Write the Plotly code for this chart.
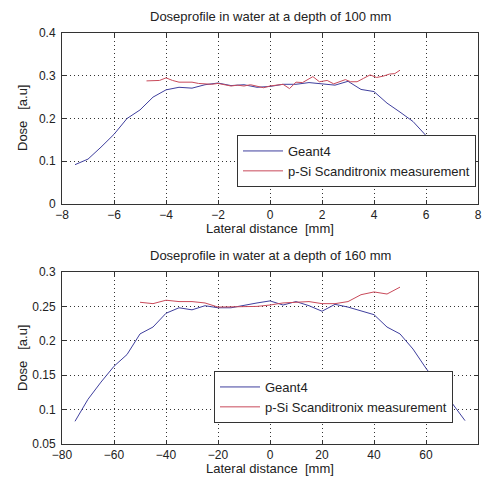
import plotly.graph_objects as go

# ---------- data: depth 100 mm ----------
g100_x = [-7.5, -7.0, -6.5, -6.0, -5.5, -5.0, -4.5, -4.0, -3.5, -3.0, -2.5, -2.0, -1.5, -1.0,
          -0.5, 0.0, 0.5, 1.0, 1.5, 2.0, 2.5, 3.0, 3.5, 4.0, 4.5, 5.0, 5.5, 6.0, 6.5, 7.0, 7.5]
g100_y = [0.092, 0.105, 0.133, 0.163, 0.200, 0.220, 0.250, 0.267, 0.273, 0.271, 0.279, 0.283,
          0.277, 0.279, 0.273, 0.275, 0.280, 0.280, 0.284, 0.281, 0.278, 0.287, 0.268, 0.263,
          0.236, 0.215, 0.193, 0.160, 0.138, 0.110, 0.090]
m100_x = [-4.75, -4.5, -4.25, -4.0, -3.75, -3.5, -3.25, -3.0, -2.75, -2.5, -2.25, -2.0, -1.75,
          -1.5, -1.25, -1.0, -0.75, -0.5, -0.25, 0.0, 0.25, 0.5, 0.75, 1.0, 1.25, 1.5, 1.65,
          1.9, 2.2, 2.45, 2.7, 2.9, 3.1, 3.35, 3.6, 3.85, 4.1, 4.35, 4.6, 4.8, 5.0]
m100_y = [0.288, 0.288, 0.289, 0.295, 0.289, 0.285, 0.285, 0.285, 0.282, 0.281, 0.280, 0.282,
          0.279, 0.276, 0.278, 0.276, 0.279, 0.275, 0.272, 0.276, 0.278, 0.280, 0.270, 0.285,
          0.284, 0.293, 0.298, 0.286, 0.289, 0.281, 0.287, 0.291, 0.286, 0.286, 0.294, 0.302,
          0.296, 0.299, 0.304, 0.305, 0.313]

# ---------- data: depth 160 mm ----------
g160_x = [-75, -70, -65, -60, -55, -50, -45, -40, -35, -30, -25, -20, -15, -10, -5, 0,
          5, 10, 15, 20, 25, 30, 35, 40, 45, 50, 55, 60, 65, 70, 75]
g160_y = [0.083, 0.115, 0.140, 0.163, 0.180, 0.210, 0.220, 0.240, 0.248, 0.245, 0.251, 0.248,
          0.248, 0.252, 0.255, 0.258, 0.252, 0.257, 0.251, 0.243, 0.253, 0.249, 0.244, 0.238,
          0.220, 0.210, 0.188, 0.160, 0.135, 0.110, 0.084]
m160_x = [-50, -45, -40, -35, -30, -25, -20, -15, -10, -5, 0, 5, 10, 15, 20, 25, 30, 35,
          40, 45, 50]
m160_y = [0.256, 0.254, 0.259, 0.257, 0.257, 0.255, 0.249, 0.249, 0.249, 0.250, 0.252, 0.255,
          0.256, 0.257, 0.254, 0.254, 0.257, 0.267, 0.271, 0.268, 0.278]

titles = ["Doseprofile in water at a depth of 100 mm", "Doseprofile in water at a depth of 160 mm"]
xlabel = "Lateral distance\u00a0\u00a0[mm]"
ylabel = "Dose\u00a0\u00a0\u00a0[a.u]"
names = ["Geant4", "p-Si Scanditronix measurement"]

BLUE = "#3f3f9e"
RED = "#c94a5a"
TXT = "#222"
FONT = "Liberation Sans, Arial, sans-serif"

fig = go.Figure()
fig.add_trace(go.Scatter(x=g100_x, y=g100_y, mode="lines", name=names[0],
                         line=dict(color=BLUE, width=1), xaxis="x", yaxis="y", legend="legend"))
fig.add_trace(go.Scatter(x=m100_x, y=m100_y, mode="lines", name=names[1],
                         line=dict(color=RED, width=1), xaxis="x", yaxis="y", legend="legend"))
fig.add_trace(go.Scatter(x=g160_x, y=g160_y, mode="lines", name=names[0],
                         line=dict(color=BLUE, width=1), xaxis="x2", yaxis="y2", legend="legend2"))
fig.add_trace(go.Scatter(x=m160_x, y=m160_y, mode="lines", name=names[1],
                         line=dict(color=RED, width=1), xaxis="x2", yaxis="y2", legend="legend2"))

W, H = 482, 478
xd = [62 / W, 478 / W]
axcommon = dict(showline=True, linecolor="#333", linewidth=1, mirror="allticks",
                ticks="inside", ticklen=4, tickcolor="#333", showgrid=True,
                gridcolor="#333", griddash="1px,3px", gridwidth=1, zeroline=False,
                automargin=False,
                tickfont=dict(family=FONT, size=12, color=TXT))

legcommon = dict(bordercolor="#333", borderwidth=1, bgcolor="white",
                 font=dict(family=FONT, size=13, color=TXT), itemwidth=40, tracegroupgap=0)

fig.update_layout(
    width=W, height=H, margin=dict(l=0, r=0, t=0, b=0, autoexpand=False),
    paper_bgcolor="white", plot_bgcolor="white",
    font=dict(family=FONT, size=13, color=TXT),
    xaxis=dict(domain=xd, range=[-8, 8], tickvals=list(range(-8, 9, 2)), anchor="y", **axcommon),
    yaxis=dict(domain=[1 - 204 / H, 1 - 33 / H], range=[0, 0.4],
               tickvals=[0, 0.1, 0.2, 0.3, 0.4], ticktext=["0", "0.1", "0.2", "0.3", "0.4"],
               anchor="x", ticklabelstandoff=3, **axcommon),
    xaxis2=dict(domain=xd, range=[-80, 80], tickvals=list(range(-80, 81, 20)), anchor="y2", **axcommon),
    yaxis2=dict(domain=[1 - 444 / H, 1 - 272 / H], range=[0.05, 0.3],
                tickvals=[0.05, 0.1, 0.15, 0.2, 0.25, 0.3],
                ticktext=["0.05", "0.1", "0.15", "0.2", "0.25", "0.3"], anchor="x2",
                ticklabelstandoff=3, **axcommon),
    legend=dict(x=476 / W, xanchor="right", y=1 - 187 / H, yanchor="bottom", **legcommon),
    legend2=dict(x=453 / W, xanchor="right", y=1 - 423 / H, yanchor="bottom", **legcommon),
)

ann = []
for title, ty in zip(titles, [17, 256]):
    ann.append(dict(text=title, x=270 / W, y=1 - ty / H, xref="paper", yref="paper",
                    showarrow=False, xanchor="center", yanchor="middle",
                    font=dict(family=FONT, size=13, color=TXT)))
for ty in [228, 468]:
    ann.append(dict(text=xlabel, x=270 / W, y=1 - ty / H, xref="paper", yref="paper",
                    showarrow=False, xanchor="center", yanchor="middle",
                    font=dict(family=FONT, size=13, color=TXT)))
for ty in [118, 358]:
    ann.append(dict(text=ylabel, x=22 / W, y=1 - ty / H, xref="paper", yref="paper",
                    showarrow=False, xanchor="center", yanchor="middle", textangle=-90,
                    font=dict(family=FONT, size=13, color=TXT)))
fig.update_layout(annotations=ann)

fig.write_html("out.html")
